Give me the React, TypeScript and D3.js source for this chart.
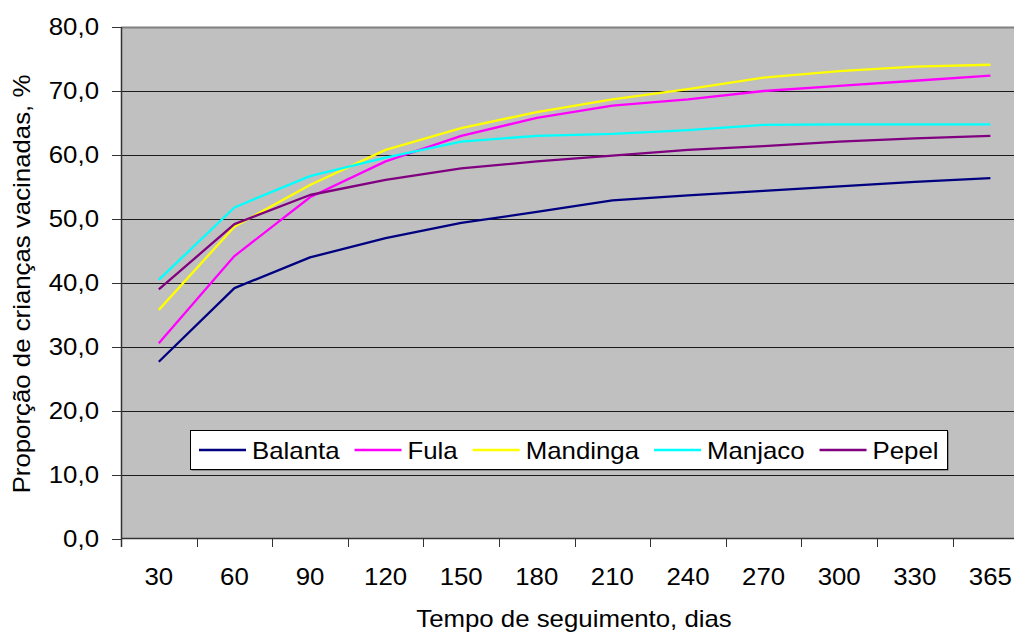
import React, { useEffect, useRef } from "react";
import * as d3 from "d3";

const categories = ["30", "60", "90", "120", "150", "180", "210", "240", "270", "300", "330", "365"];
const balanta = [27.7, 39.2, 44.0, 47.0, 49.4, 51.1, 52.9, 53.7, 54.4, 55.1, 55.8, 56.4];
const fula = [30.6, 44.2, 53.4, 59.0, 63.0, 65.8, 67.7, 68.7, 70.0, 70.8, 71.6, 72.4];
const mandinga = [35.8, 48.8, 55.3, 60.8, 64.2, 66.7, 68.7, 70.3, 72.1, 73.1, 73.8, 74.1];
const manjaco = [40.5, 51.8, 56.7, 59.6, 62.1, 63.0, 63.3, 63.9, 64.7, 64.8, 64.8, 64.8];
const pepel = [39.0, 49.2, 53.75, 56.1, 57.9, 59.0, 59.9, 60.8, 61.4, 62.1, 62.6, 63.0];
const seriesNames = ["Balanta", "Fula", "Mandinga", "Manjaco", "Pepel"];
const seriesColors = ["#000080", "#FF00FF", "#FFFF00", "#00FFFF", "#800080"];
const yTicks = [0, 10, 20, 30, 40, 50, 60, 70, 80];
const yTitle = "Proporção de crianças vacinadas, %";
const xTitle = "Tempo de seguimento, dias";

const W = 1014;
const H = 633;
const FONT = "'Liberation Sans', Arial, sans-serif";
const FS = 24;
const STRETCH = 1.075;

export default function App() {
  const ref = useRef<SVGSVGElement>(null);

  useEffect(() => {
    const svg = d3.select(ref.current);
    svg.selectAll("*").remove();
    const left = 121, top = 27, bottom = 539;
    const band = 75.6;
    const right = left + band * categories.length;

    const stretch = (sel: any) => {
      sel.each(function (this: SVGTextElement) {
        const w = this.getComputedTextLength();
        d3.select(this).attr("textLength", w * STRETCH).attr("lengthAdjust", "spacingAndGlyphs");
      });
      return sel;
    };

    const x = d3.scaleBand().domain(categories).range([left, right]).paddingInner(0).paddingOuter(0);
    const y = d3.scaleLinear().domain([0, 80]).range([bottom, top]);

    svg.append("rect").attr("width", W).attr("height", H).attr("fill", "#ffffff");
    svg.append("rect").attr("x", left).attr("y", top).attr("width", right - left).attr("height", bottom - top).attr("fill", "#C0C0C0");

    // grid lines
    svg.append("g").selectAll("line").data(yTicks.filter(t => t > 0 && t < 80)).join("line")
      .attr("x1", left).attr("x2", right)
      .attr("y1", d => Math.round(y(d)) + 0.5).attr("y2", d => Math.round(y(d)) + 0.5)
      .attr("stroke", "#1a1a1a").attr("stroke-width", 1);
    // top border
    svg.append("line").attr("x1", left).attr("x2", right).attr("y1", top + 0.5).attr("y2", top + 0.5)
      .attr("stroke", "#808080").attr("stroke-width", 2);

    // series lines
    const allSeries = [balanta, fula, mandinga, manjaco, pepel];
    const line = d3.line<number>()
      .x((_, i) => (x(categories[i]) as number) + x.bandwidth() / 2)
      .y(d => y(d));
    svg.append("g").selectAll("path").data(allSeries).join("path")
      .attr("d", d => line(d) as string)
      .attr("fill", "none")
      .attr("stroke", (_, i) => seriesColors[i])
      .attr("stroke-width", 2.3)
      .attr("stroke-linejoin", "round");

    // axes lines
    svg.append("line").attr("x1", left + 0.5).attr("x2", left + 0.5).attr("y1", top).attr("y2", bottom + 8)
      .attr("stroke", "#333333").attr("stroke-width", 1.5);
    svg.append("line").attr("x1", left).attr("x2", right).attr("y1", bottom - 0.5).attr("y2", bottom - 0.5)
      .attr("stroke", "#333333").attr("stroke-width", 1.5);

    // y ticks
    const yg = svg.append("g");
    yg.selectAll("line").data(yTicks).join("line")
      .attr("x1", left - 9).attr("x2", left)
      .attr("y1", d => Math.round(y(d)) + 0.5).attr("y2", d => Math.round(y(d)) + 0.5)
      .attr("stroke", "#333").attr("stroke-width", 1);
    stretch(yg.selectAll("text").data(yTicks).join("text")
      .attr("x", 99).attr("y", d => y(d) + 8.3)
      .attr("text-anchor", "end")
      .attr("font-family", FONT).attr("font-size", FS).attr("fill", "#000")
      .text(d => d3.format(".1f")(d).replace(".", ",")));

    // x ticks
    const xg = svg.append("g");
    xg.selectAll("line").data(categories).join("line")
      .attr("x1", d => Math.round(x(d) as number) + 0.5).attr("x2", d => Math.round(x(d) as number) + 0.5)
      .attr("y1", bottom).attr("y2", bottom + 8)
      .attr("stroke", "#333").attr("stroke-width", 1);
    stretch(xg.selectAll("text").data(categories).join("text")
      .attr("x", d => (x(d) as number) + x.bandwidth() / 2).attr("y", 585)
      .attr("text-anchor", "middle")
      .attr("font-family", FONT).attr("font-size", FS).attr("fill", "#000")
      .text(d => d));

    // titles
    stretch(svg.append("text").attr("x", 574).attr("y", 627).attr("text-anchor", "middle")
      .attr("font-family", FONT).attr("font-size", FS).attr("fill", "#000").text(xTitle));
    stretch(svg.append("text").attr("transform", "translate(30,284) rotate(-90)").attr("text-anchor", "middle")
      .attr("font-family", FONT).attr("font-size", FS).attr("fill", "#000").text(yTitle));

    // legend
    const lg = svg.append("g");
    const lx = 190, ly = 430, lh = 39, lw = 757;
    lg.append("rect").attr("x", lx + 1.5).attr("y", ly + 1.5).attr("width", lw).attr("height", lh).attr("fill", "#555");
    lg.append("rect").attr("x", lx + 0.5).attr("y", ly + 0.5).attr("width", lw).attr("height", lh)
      .attr("fill", "#ffffff").attr("stroke", "#000").attr("stroke-width", 1);
    let cx = lx + 9;
    seriesNames.forEach((name, i) => {
      lg.append("line").attr("x1", cx).attr("x2", cx + 47).attr("y1", ly + 20).attr("y2", ly + 20)
        .attr("stroke", seriesColors[i]).attr("stroke-width", 2.5);
      const t = lg.append("text").attr("x", cx + 53).attr("y", ly + 28.5)
        .attr("font-family", FONT).attr("font-size", FS).attr("fill", "#000").text(name);
      const w = (t.node() as SVGTextElement).getComputedTextLength() * STRETCH;
      t.attr("textLength", w).attr("lengthAdjust", "spacingAndGlyphs");
      cx += 53 + w + 15;
    });
  }, []);

  return (
    <svg ref={ref} width={W} height={H}
      style={{ position: "absolute", left: 0, top: 0, display: "block" }} />
  );
}
